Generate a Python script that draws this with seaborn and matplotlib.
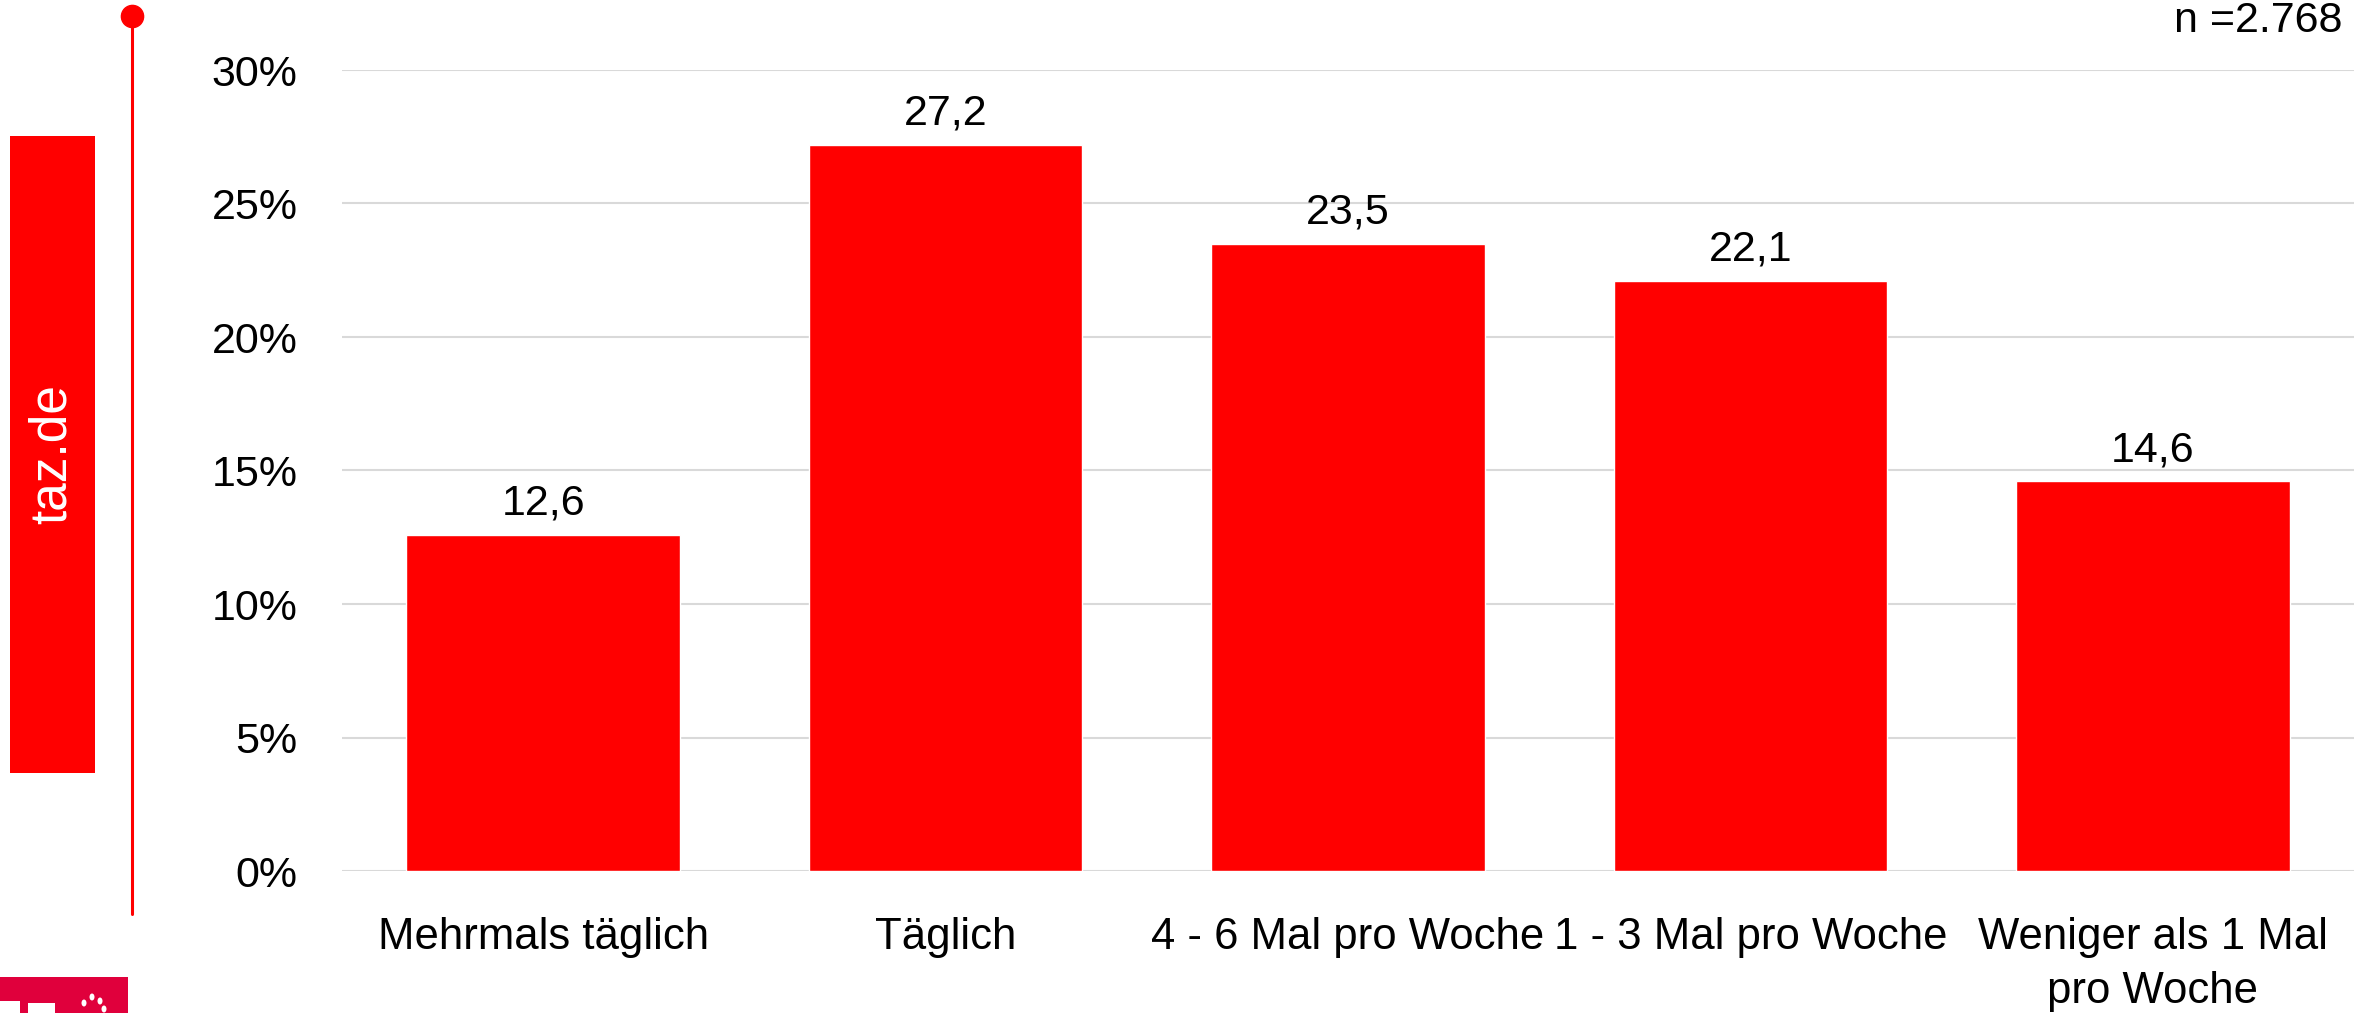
import matplotlib
matplotlib.use("Agg")
import matplotlib.pyplot as plt
import seaborn as sns
import pandas as pd
from matplotlib.patches import Rectangle, Ellipse
from matplotlib.lines import Line2D

# data
categories = ["Mehrmals täglich", "Täglich", "4 - 6 Mal pro Woche",
              "1 - 3 Mal pro Woche", "Weniger als 1 Mal\npro Woche"]
values = [12.6, 27.2, 23.5, 22.1, 14.6]
value_labels = ["12,6", "27,2", "23,5", "22,1", "14,6"]
y_ticks = [0, 5, 10, 15, 20, 25, 30]
y_tick_labels = ["0%", "5%", "10%", "15%", "20%", "25%", "30%"]
sample_note = "n =2.768"
side_label = "taz.de"

RED = "#FF0000"
W, H = 2354, 1013

sns.set_style("white")
plt.rcParams["font.family"] = ["Liberation Sans", "DejaVu Sans"]
plt.rcParams["text.color"] = "black"
plt.rcParams["xtick.color"] = "black"
plt.rcParams["ytick.color"] = "black"

fig = plt.figure(figsize=(W / 100, H / 100), dpi=100)
ax = fig.add_axes([342 / W, 1 - 871 / H, 1 - 342 / W, (871 - 70) / H])

df = pd.DataFrame({"kategorie": categories, "anteil": values})
sns.barplot(data=df, x="kategorie", y="anteil", color=RED, saturation=1,
            width=0.68, ax=ax)

ax.set_xlim(-0.5, 4.5)
ax.set_ylim(0, 30)
ax.set_yticks(y_ticks, y_tick_labels)
ax.set_xlabel("")
ax.set_ylabel("")
ax.grid(axis="y", color="#D9D9D9", lw=1.5)
ax.set_axisbelow(True)
sns.despine(ax=ax, left=True, bottom=True)
ax.tick_params(axis="y", length=0, pad=32, labelsize=31)
ax.tick_params(axis="x", length=0, pad=33, labelsize=31.5)
for lbl in ax.get_xticklabels():
    lbl.set_linespacing(1.42)

ax.bar_label(ax.containers[0], labels=value_labels, padding=8, fontsize=31)

# sample size in the top right corner
fig.text(2343 / W, 1 - 32 / H, sample_note, ha="right", va="baseline", fontsize=31)

# left side decoration
fig.add_artist(Rectangle((10 / W, 1 - 773 / H), 85 / W, 637 / H,
                         transform=fig.transFigure, color=RED, lw=0))
fig.text(52.5 / W, 1 - 454 / H, side_label, rotation=90, color="white",
         ha="center", va="center", fontsize=37)
fig.add_artist(Line2D([132 / W, 132 / W], [1 - 16 / H, 1 - 914 / H],
                      transform=fig.transFigure, color=RED, lw=2.2))
fig.add_artist(Line2D([132 / W], [1 - 16 / H], transform=fig.transFigure,
                      marker="o", markersize=16, color=RED, lw=0))

# cropped logo in the corner (only its top edge is visible)
fig.add_artist(Rectangle((0, 0), 128 / W, 36 / H, transform=fig.transFigure,
                         color="#E0003C", lw=0))
fig.add_artist(Rectangle((0, 0), 20 / W, 12 / H, transform=fig.transFigure,
                         color="white", lw=0))
fig.add_artist(Rectangle((28 / W, 0), 27 / W, 10 / H, transform=fig.transFigure,
                         color="white", lw=0))
for px, py in [(84, 10), (92, 16), (100, 12), (104, 4)]:
    fig.add_artist(Ellipse((px / W, py / H), 5 / W, 7 / H,
                           transform=fig.transFigure, color="white", lw=0))

fig.savefig("out.png", dpi=100)
